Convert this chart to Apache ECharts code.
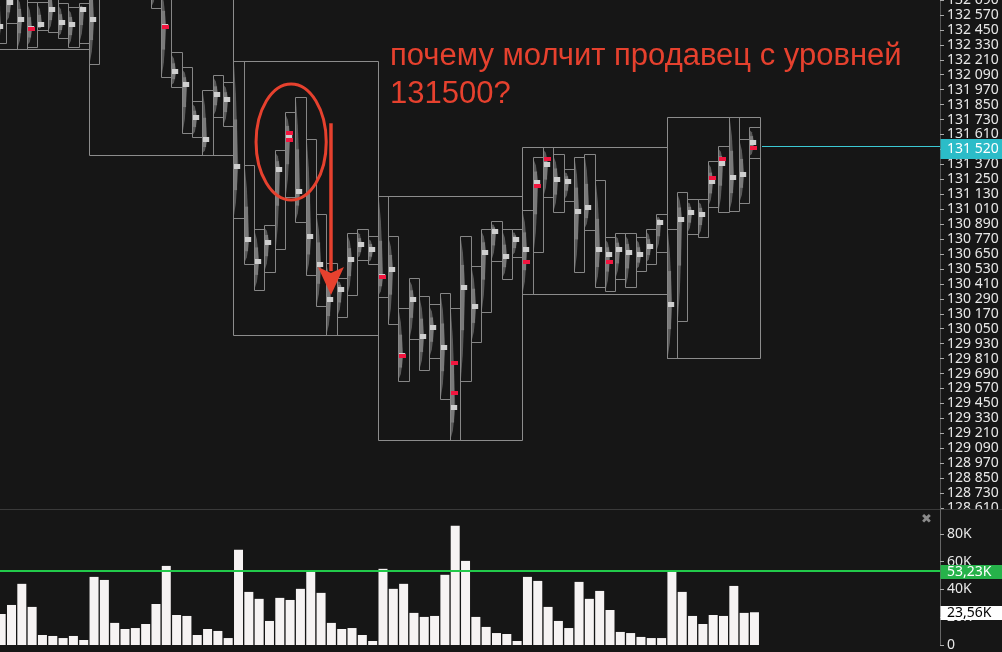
<!DOCTYPE html>
<html>
<head>
<meta charset="utf-8">
<script src="https://cdn.jsdelivr.net/npm/echarts@6/dist/echarts.min.js"></script>
<style>
  html, body { margin: 0; padding: 0; background: #161616; }
  #chart { width: 1002px; height: 652px; }
</style>
</head>
<body>
<div id="chart"></div>
<script>
// Per-bar price range and point of control (most traded price)
const highs = [132850,132770,132730,132675,132675,132810,132665,132635,132665,
  132930,133120,133250,133300,133230,133150,133010,132760,132270,132150,131880,131965,132090,132030,
  132200,131365,130850,130885,131485,131790,131910,131575,130970,130575,130455,130820,130850,130795,
  131115,130795,130215,130455,130310,130250,130335,130215,130795,130555,130850,130915,130850,130850,
  131005,131430,131510,131455,131330,131430,131455,131245,130785,130820,130820,130785,130850,130970,
  130850,131150,131090,131090,131395,131515,131750,131575,131670];
const lows = [132345,132505,132295,132310,132450,132435,132385,132310,132345,
  132175,132760,133000,133120,133060,132900,132625,132070,131990,131620,131590,131445,131750,131680,
  130940,130570,130360,130505,130690,131105,130905,130480,130230,130000,130145,130320,130600,130570,
  130305,130090,129630,129965,129720,129815,129485,129155,129630,129945,130185,130595,130450,130625,
  130330,130665,131105,130985,131075,130505,130840,130385,130350,130450,130385,130515,130570,130665,
  129815,130110,130810,130785,131025,130985,130995,131060,131420];
const pocs = [132470,132665,132530,132455,132490,132610,132505,132490,132610,
  132530,132950,133120,133200,133150,133020,132800,132475,132110,132005,131740,131565,131925,131885,
  131350,130760,130585,130740,131325,131590,131150,130785,130560,130280,130360,130600,130720,130680,
  130465,130520,129830,130280,129985,130055,129895,129415,130375,130225,130660,130825,130625,130760,
  130680,131220,131365,131245,131230,130985,131020,130680,130640,130680,130660,130640,130705,130900,
  130240,130925,130980,130965,131230,131375,131260,131285,131540];
// Volume per bar, thousands
const volumes = [22.3,28.8,44.0,27.4,7.2,6.5,5.0,6.5,3.6,
  49.0,46.8,15.9,11.5,12.2,15.1,29.5,56.9,21.6,20.9,7.2,11.5,10.1,5.0,
  68.5,38.2,33.2,17.3,33.9,32.4,40.4,52.6,37.5,15.9,11.5,12.2,7.2,2.9,
  54.8,40.4,44.0,23.1,20.2,20.9,50.5,85.8,60.5,20.2,13.0,8.6,7.9,2.9,
  49.0,46.1,27.4,17.3,12.2,45.4,33.2,38.9,25.2,9.4,8.6,5.8,5.0,5.0,
  52.6,38.2,20.9,15.1,21.6,20.9,42.5,23.1,23.56];
// Price levels with the largest imbalance, marked red: [bar, price]
const redMarks = [[3,132455],[16,132475],[28,131620],[28,131565],[37,130465],[39,129830],
  [44,129775],[44,129535],[51,130585],[52,131195],[53,131415],[59,130585],
  [69,131260],[70,131415],[73,131500]];
// First bar of every trading session
const sessionStarts = [0, 9, 23, 37, 51, 65];
const lastPrice = 131520;
const volumeLevel = 53.23;
const lastVolume = 23.56;
// Axis scales
const priceAxis = { min: 128610, max: 132690, step: 120 };
const volumeAxis = { min: 0, max: 100, step: 20 };
const barAxis = { min: -0.114, max: 90.98 };
// Annotation
const noteLines = ['почему молчит продавец с уровней', '131500?'];
const ringNote = { center: [28.1, 131550], halfWidth: 3.4, halfHeight: 466 };
const arrowNote = { from: [31.96, 131700], to: [31.96, 130320] };

const BG = '#161616';
const AXIS_FONT = '"Noto Sans", "Open Sans", sans-serif';
const TAG_FONT = '14px "Noto Sans", "Open Sans", sans-serif';

const fmtPrice = v => String(v).replace(/\B(?=(\d{3})+(?!\d))/g, ' ');
const fmtVol = v => v.toFixed(2).replace('.', ',') + 'K';

const barData = highs.map((h, i) => [i, h, lows[i], pocs[i]]);
const sessions = sessionStarts.map((s, k) => {
  const e = k + 1 < sessionStarts.length ? sessionStarts[k + 1] - 1 : highs.length - 1;
  return [s, e, Math.max(...highs.slice(s, e + 1)), Math.min(...lows.slice(s, e + 1))];
});
const lastIndex = highs.length - 1;

function crisp(v) { return Math.round(v) + 0.5; }

function renderSession(params, api) {
  const w = api.size([1, 0])[0];
  const a = api.coord([api.value(0), api.value(2)]);
  const b = api.coord([api.value(1), api.value(3)]);
  const x1 = crisp(a[0] - w / 2), x2 = crisp(b[0] + w / 2);
  const y1 = crisp(a[1]), y2 = crisp(b[1]);
  return {
    type: 'rect',
    shape: { x: x1, y: y1, width: x2 - x1, height: y2 - y1 },
    style: { fill: 'none', stroke: '#8c8c8c', lineWidth: 1 }
  };
}

// One bar: range box, volume profile hugging its left edge, brightest cell at the POC
function renderBar(params, api) {
  const i = api.value(0);
  const w = api.size([1, 0])[0];
  const top = api.coord([i, api.value(1)]);
  const bot = api.coord([i, api.value(2)]);
  const poc = api.coord([i, api.value(3)]);
  const x1 = crisp(top[0] - w / 2), x2 = crisp(top[0] + w / 2);
  const y1 = crisp(top[1]), y2 = crisp(bot[1]);
  const px = x1 + 0.5;
  const pw = w * 0.6;
  const py = poc[1];
  const vaTop = Math.max(y1 + 2, py - (py - y1) * 0.45);
  const vaBot = Math.min(y2 - 2, py + (y2 - py) * 0.45);
  return {
    type: 'group',
    children: [
      {
        type: 'polygon',
        shape: { points: [[px, y1 + 3], [px + pw * 0.3, y1 + (py - y1) * 0.3], [px + pw * 0.7, py],
          [px + pw * 0.3, py + (y2 - py) * 0.7], [px, y2 - 3]] },
        style: { fill: '#5a5a5a' }
      },
      {
        type: 'rect',
        shape: { x: px, y: vaTop, width: pw * 0.5, height: vaBot - vaTop },
        style: { fill: '#7a7a7a' }
      },
      {
        type: 'rect',
        shape: { x: px, y: Math.round(py) - 3, width: pw, height: 5 },
        style: { fill: '#cfcfcf' }
      },
      {
        type: 'rect',
        shape: { x: x1, y: y1, width: x2 - x1, height: y2 - y1 },
        style: { fill: 'none', stroke: '#868686', lineWidth: 1 }
      }
    ]
  };
}

function renderMark(params, api) {
  const w = api.size([1, 0])[0];
  const p = api.coord([api.value(0), api.value(1)]);
  const x = Math.round(p[0] - w / 2) + 1;
  return {
    type: 'rect',
    shape: { x: x, y: Math.round(p[1]) - 2, width: 7, height: 4 },
    style: { fill: '#f2163f' }
  };
}

// Last price: thin line from the last bar to the scale, value tag on the scale
function renderPriceTag(params, api) {
  const cs = params.coordSys;
  const w = api.size([1, 0])[0];
  const p = api.coord([api.value(0), api.value(1)]);
  const y = Math.round(p[1]);
  const xStart = Math.round(p[0] + w / 2) + 2;
  const xEnd = cs.x + cs.width;
  return {
    type: 'group',
    children: [
      { type: 'rect', shape: { x: xStart, y: y, width: xEnd - xStart, height: 1 },
        style: { fill: '#3cc9d4' } },
      { type: 'rect', shape: { x: xEnd + 0.5, y: y - 7, width: 62, height: 20 },
        style: { fill: '#2bbcc8' } },
      { type: 'text', x: xEnd + 7, y: y + 3,
        style: { text: fmtPrice(api.value(1)), fill: '#ffffff', font: TAG_FONT,
          align: 'left', verticalAlign: 'middle' } }
    ]
  };
}

// Volume levels: optional line across the pane plus a tag on the scale
const volumeTagStyles = [
  { line: '#22c94a', bg: '#26b24a', fg: '#ffffff' },
  { line: null, bg: '#ffffff', fg: '#000000' }
];
function renderVolumeTag(params, api) {
  const cs = params.coordSys;
  const st = volumeTagStyles[params.dataIndex];
  const p = api.coord([0, api.value(0)]);
  const y = Math.round(p[1]);
  const xEnd = cs.x + cs.width;
  const children = [];
  if (st.line) {
    children.push({ type: 'rect', shape: { x: cs.x, y: y - 1, width: cs.width, height: 2 },
      style: { fill: st.line, opacity: 1 } });
  }
  children.push({ type: 'rect', shape: { x: xEnd + 0.5, y: y - 6, width: 62, height: 14 },
    style: { fill: st.bg } });
  children.push({ type: 'text', x: xEnd + 7, y: y + 1,
    style: { text: fmtVol(api.value(0)), fill: st.fg, font: TAG_FONT,
      align: 'left', verticalAlign: 'middle' } });
  return { type: 'group', children: children };
}

const chart = echarts.init(document.getElementById('chart'), null, { renderer: 'canvas' });

const option = {
  animation: false,
  backgroundColor: BG,
  grid: [
    { left: 0, right: 62, top: 0, height: 508, outerBoundsMode: 'none' },
    { left: 0, right: 62, top: 506, bottom: 7, outerBoundsMode: 'none' }
  ],
  xAxis: [
    { gridIndex: 0, type: 'value', min: barAxis.min, max: barAxis.max, show: false },
    { gridIndex: 1, type: 'value', min: barAxis.min, max: barAxis.max,
      offset: 5,
      axisLine: { show: true, onZero: false, lineStyle: { color: '#4a4a4a' } },
      axisTick: { show: false }, axisLabel: { show: false }, splitLine: { show: false } }
  ],
  yAxis: [
    { gridIndex: 0, type: 'value', position: 'right', z: 0,
      min: priceAxis.min, max: priceAxis.max, interval: priceAxis.step,
      axisLine: { show: true, onZero: false, lineStyle: { color: '#555' } },
      axisTick: { show: true, length: 4, lineStyle: { color: '#aaa' } },
      axisLabel: { color: '#e8e8e8', fontSize: 14, fontFamily: AXIS_FONT, margin: 7,
        hideOverlap: false, formatter: fmtPrice },
      splitLine: { show: false } },
    { gridIndex: 1, type: 'value', position: 'right', z: 4,
      min: volumeAxis.min, max: volumeAxis.max, interval: volumeAxis.step,
      axisLine: { show: true, onZero: false, lineStyle: { color: '#666' } },
      axisTick: { show: true, length: 4, lineStyle: { color: '#aaa' } },
      axisLabel: { color: '#e8e8e8', fontSize: 14, fontFamily: AXIS_FONT, margin: 7,
        showMaxLabel: false, formatter: v => v === 0 ? '0' : v + 'K' },
      splitLine: { show: false } }
  ],
  series: [
    { type: 'custom', name: 'sessions', xAxisIndex: 0, yAxisIndex: 0, z: 1, clip: true,
      renderItem: renderSession, data: sessions, silent: true },
    { type: 'custom', name: 'bars', xAxisIndex: 0, yAxisIndex: 0, z: 2, clip: true,
      renderItem: renderBar, data: barData, silent: true },
    { type: 'custom', name: 'imbalance', xAxisIndex: 0, yAxisIndex: 0, z: 3, clip: true,
      renderItem: renderMark, data: redMarks, silent: true },
    { type: 'custom', name: 'last price', xAxisIndex: 0, yAxisIndex: 0, z: 6, clip: false,
      renderItem: renderPriceTag, data: [[lastIndex, lastPrice]], silent: true },
    { type: 'bar', name: 'volume', xAxisIndex: 1, yAxisIndex: 1, z: 4,
      barWidth: 9, data: volumes.map((v, i) => [i, v]),
      itemStyle: { color: '#f6f3f3' }, silent: true },
    { type: 'custom', name: 'volume levels', xAxisIndex: 1, yAxisIndex: 1, z: 6, clip: false,
      renderItem: renderVolumeTag, data: [[volumeLevel], [lastVolume]], silent: true }
  ]
};

chart.setOption(option);

// Annotation anchored to price/bar coordinates
const toPx = pt => chart.convertToPixel({ xAxisIndex: 0, yAxisIndex: 0 }, pt);
const rc = toPx(ringNote.center);
const re = toPx([ringNote.center[0] + ringNote.halfWidth, ringNote.center[1] - ringNote.halfHeight]);
const af = toPx(arrowNote.from);
const at = toPx(arrowNote.to);
const NOTE_RED = '#e6412e';
const headLen = 28, headHalf = 13;

chart.setOption({
  graphic: { elements: [
    { type: 'rect', z: 1, silent: true,
      shape: { x: 0, y: 509, width: 1002, height: 143 }, style: { fill: BG } },
    { type: 'line', z: 2, silent: true,
      shape: { x1: 0, y1: 509.5, x2: 1002, y2: 509.5 }, style: { stroke: '#3a3a3a', lineWidth: 1 } },
    { type: 'text', z: 5, left: 921, top: 513, silent: true,
      style: { text: '✖', fill: '#8a8a8a', font: 'bold 13px "DejaVu Sans"' } },
    { type: 'ellipse', z: 10, silent: true,
      shape: { cx: rc[0], cy: rc[1], rx: re[0] - rc[0], ry: re[1] - rc[1] },
      style: { fill: 'none', stroke: NOTE_RED, lineWidth: 3 } },
    { type: 'line', z: 10, silent: true,
      shape: { x1: af[0], y1: af[1], x2: at[0], y2: at[1] - headLen + 4 },
      style: { stroke: NOTE_RED, lineWidth: 3.5 } },
    { type: 'polygon', z: 10, silent: true,
      shape: { points: [[at[0] - headHalf, at[1] - headLen], [at[0], at[1] - headLen + 6],
        [at[0] + headHalf, at[1] - headLen], [at[0], at[1]]] },
      style: { fill: NOTE_RED } },
    { type: 'text', z: 10, left: 390, top: 37, silent: true,
      style: { text: noteLines.join('\n'), fill: NOTE_RED,
        font: '31px "Liberation Sans", Arial, sans-serif', lineHeight: 38 } }
  ] }
});
</script>
</body>
</html>
